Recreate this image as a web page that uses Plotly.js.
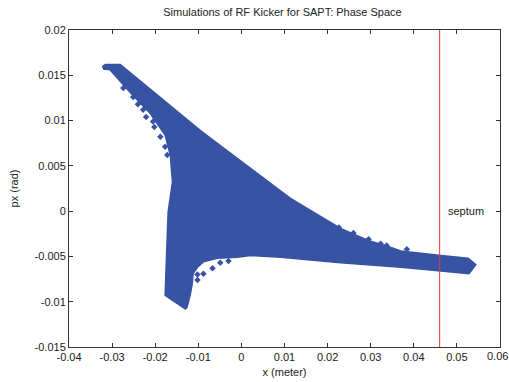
<!DOCTYPE html>
<html>
<head>
<meta charset="utf-8">
<script src="https://cdn.plot.ly/plotly-3.0.1.min.js"></script>
<style>html,body{margin:0;padding:0;background:#fff;overflow:hidden;}#chart{width:509px;height:382px;}</style>
</head>
<body>
<div id="chart"></div>
<script>
// Outline of the dense particle cloud (x in m, px in rad)
var cloudX = [-0.0323,-0.0316,-0.0281,-0.0188,-0.0095,0.0005,0.0114,0.0230,0.0293,0.0347,0.0370,0.0463,0.0526,0.0544,0.0528,0.0463,0.0370,0.0230,0.0091,0.0021,-0.0009,-0.0056,-0.0088,-0.0102,-0.0112,-0.0114,-0.0119,-0.0126,-0.0130,-0.0177,-0.0172,-0.0170,-0.0160,-0.0165,-0.0177,-0.0212,-0.0258,-0.0305,-0.0321];
var cloudY = [0.0159,0.0162,0.0162,0.0126,0.0089,0.0053,0.0014,-0.0019,-0.0032,-0.0040,-0.0044,-0.0049,-0.0052,-0.0059,-0.0069,-0.0066,-0.0062,-0.0057,-0.0051,-0.0049,-0.0051,-0.0052,-0.0056,-0.0062,-0.0069,-0.0080,-0.0093,-0.0106,-0.0108,-0.0093,-0.0027,-0.0001,0.0032,0.0062,0.0084,0.0108,0.0131,0.0156,0.0157];
// Isolated particles along the edges
var strayX = [-0.0274,-0.0251,-0.0240,-0.0228,-0.0221,-0.0205,-0.0202,-0.0188,-0.0177,-0.0172,-0.0102,-0.0102,-0.0088,-0.0067,-0.0049,-0.0030,0.0226,0.0260,0.0295,0.0323,0.0337,0.0384];
var strayY = [0.0136,0.0126,0.0118,0.0112,0.0104,0.0099,0.0093,0.0082,0.0071,0.0062,-0.0070,-0.0076,-0.0069,-0.0063,-0.0057,-0.0055,-0.0018,-0.0024,-0.0031,-0.0036,-0.0038,-0.0042];
var septumX = [0.046, 0.046];
var septumY = [-0.015, 0.02];
var septumLabel = "septum";
var septumLabelPos = [0.0475, 0.0];
var xTicks = [-0.04,-0.03,-0.02,-0.01,0,0.01,0.02,0.03,0.04,0.05,0.06];
var xTickText = ["-0.04","-0.03","-0.02","-0.01","0","0.01","0.02","0.03","0.04","0.05","0.06"];
var yTicks = [-0.015,-0.01,-0.005,0,0.005,0.01,0.015,0.02];
var yTickText = ["-0.015","-0.01","-0.005","0","0.005","0.01","0.015","0.02"];

var blue = "rgb(57,83,164)";
var traces = [
  {x: cloudX, y: cloudY, type: "scatter", mode: "lines", fill: "toself", fillcolor: blue,
   line: {color: blue, width: 1.5}, hoverinfo: "skip"},
  {x: strayX, y: strayY, type: "scatter", mode: "markers",
   marker: {symbol: "diamond", size: 5, color: blue}},
  {x: septumX, y: septumY, type: "scatter", mode: "lines", line: {color: "rgb(220,60,60)", width: 1}}
];
var font = {family: "Liberation Sans, Arial, sans-serif", size: 11, color: "#222"};
var lastTick = xTicks.length - 1;
var layout = {
  width: 509, height: 382,
  margin: {l: 69, r: 9, t: 30, b: 35},
  paper_bgcolor: "#fff", plot_bgcolor: "#fff",
  showlegend: false,
  font: font,
  title: {text: "Simulations of RF Kicker for SAPT: Phase Space", font: {family: font.family, size: 11, color: "#222"}, x: 0.555, xanchor: "center", y: 0.968, yanchor: "middle"},
  xaxis: {range: [-0.04, 0.06], tickvals: xTicks.slice(0, lastTick), ticktext: xTickText.slice(0, lastTick), ticks: "inside", ticklen: 4,
          tickcolor: "#333", showline: true, linecolor: "#333", linewidth: 1, mirror: "ticks",
          showgrid: false, zeroline: false, tickfont: {size: 11, color: "#222"},
          title: {text: "x (meter)", font: {size: 11, color: "#222"}, standoff: 6}},
  yaxis: {range: [-0.015, 0.02], tickvals: yTicks, ticktext: yTickText, ticks: "inside", ticklen: 4,
          tickcolor: "#333", showline: true, linecolor: "#333", linewidth: 1, mirror: "ticks",
          showgrid: false, zeroline: false, tickfont: {size: 11, color: "#222"},
          title: {text: "px (rad)", font: {size: 11, color: "#222"}, standoff: 13}},
  annotations: [
    {x: septumLabelPos[0], y: septumLabelPos[1], text: septumLabel, showarrow: false,
     xanchor: "left", yanchor: "middle", font: {size: 11, color: "#222"}},
    {x: xTicks[lastTick], xref: "x", y: 0, yref: "paper", text: xTickText[lastTick], showarrow: false,
     xanchor: "center", yanchor: "top", xshift: -3, yshift: -1, font: {size: 11, color: "#222"}}
  ]
};
Plotly.newPlot("chart", traces, layout, {displayModeBar: false, staticPlot: true});
</script>
</body>
</html>
